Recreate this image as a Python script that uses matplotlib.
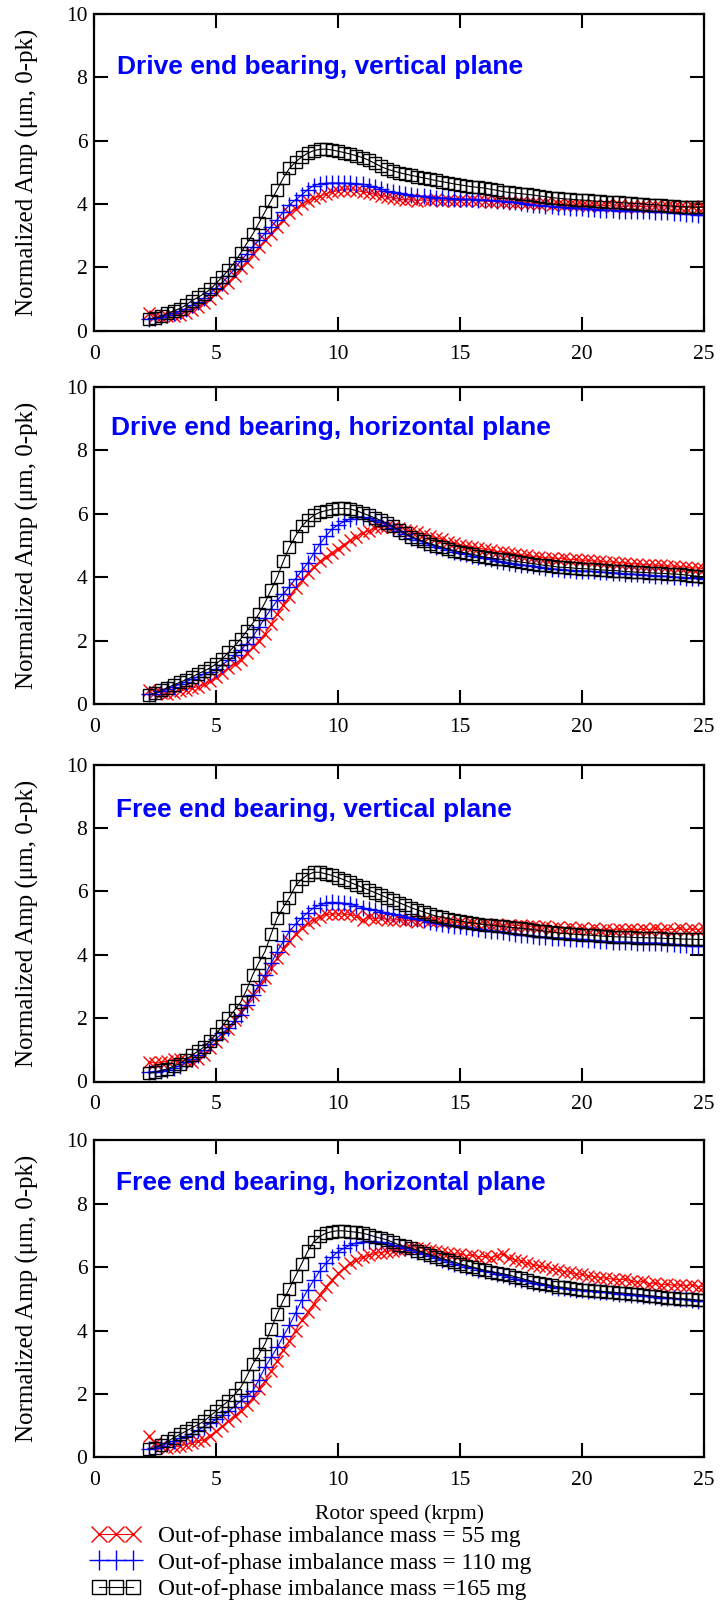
import numpy as np
import matplotlib
matplotlib.use("Agg")
import matplotlib.pyplot as plt

# ---------------- data ----------------
speed = np.arange(2.25, 25.001, 0.25)   # rotor speed grid (krpm), 92 points

titles = ["Drive end bearing, vertical plane",
          "Drive end bearing, horizontal plane",
          "Free end bearing, vertical plane",
          "Free end bearing, horizontal plane"]

labels = ["Out-of-phase imbalance mass = 55 mg",
          "Out-of-phase imbalance mass = 110 mg",
          "Out-of-phase imbalance mass =165 mg"]

xticks = [0, 5, 10, 15, 20, 25]
yticks = [0, 2, 4, 6, 8, 10]

# Drive end, vertical
dv_55 = [0.55, 0.47, 0.43, 0.45, 0.47, 0.51, 0.57, 0.65, 0.74, 0.86,
         1.01, 1.18, 1.34, 1.52, 1.74, 1.98, 2.18, 2.42, 2.63, 2.85,
         3.06, 3.28, 3.50, 3.70, 3.85, 3.99, 4.10, 4.18, 4.25, 4.32,
         4.38, 4.42, 4.44, 4.45, 4.42, 4.38, 4.35, 4.30, 4.26, 4.22,
         4.18, 4.15, 4.12, 4.14, 4.10, 4.13, 4.11, 4.14, 4.10, 4.12,
         4.09, 4.12, 4.10, 4.13, 4.09, 4.10, 4.07, 4.10, 4.05, 4.07,
         4.04, 4.06, 4.02, 4.03, 4.00, 4.02, 3.98, 4.00, 3.96, 3.99,
         3.95, 3.97, 3.94, 3.96, 3.93, 3.96, 3.92, 3.95, 3.91, 3.94,
         3.90, 3.93, 3.90, 3.92, 3.89, 3.92, 3.89, 3.91, 3.88, 3.92,
         3.88, 3.90]
dv_110 = [0.38, 0.39, 0.43, 0.50, 0.55, 0.62, 0.70, 0.80, 0.90, 1.03,
          1.18, 1.35, 1.52, 1.72, 1.95, 2.20, 2.42, 2.65, 2.86, 3.07,
          3.28, 3.50, 3.75, 3.97, 4.13, 4.28, 4.45, 4.58, 4.63, 4.65,
          4.66, 4.66, 4.65, 4.65, 4.64, 4.62, 4.58, 4.54, 4.47, 4.40,
          4.36, 4.33, 4.30, 4.28, 4.26, 4.24, 4.22, 4.20, 4.19, 4.18,
          4.17, 4.16, 4.15, 4.14, 4.13, 4.12, 4.11, 4.10, 4.08, 4.07,
          4.05, 4.03, 4.00, 3.97, 3.95, 3.93, 3.92, 3.90, 3.89, 3.88,
          3.87, 3.86, 3.85, 3.83, 3.82, 3.80, 3.80, 3.79, 3.79, 3.78,
          3.78, 3.77, 3.77, 3.76, 3.75, 3.73, 3.72, 3.70, 3.69, 3.68,
          3.66, 3.65]
dv_165 = [0.38, 0.40, 0.45, 0.55, 0.62, 0.70, 0.80, 0.95, 1.05, 1.17,
          1.30, 1.50, 1.70, 1.92, 2.15, 2.45, 2.75, 3.05, 3.40, 3.75,
          4.10, 4.45, 4.82, 5.12, 5.32, 5.48, 5.60, 5.68, 5.72, 5.73,
          5.70, 5.66, 5.62, 5.57, 5.52, 5.46, 5.38, 5.28, 5.18, 5.10,
          5.04, 4.99, 4.94, 4.90, 4.86, 4.82, 4.78, 4.74, 4.70, 4.67,
          4.63, 4.60, 4.57, 4.54, 4.52, 4.50, 4.46, 4.43, 4.39, 4.36,
          4.34, 4.32, 4.30, 4.28, 4.25, 4.23, 4.20, 4.18, 4.16, 4.15,
          4.13, 4.12, 4.11, 4.09, 4.08, 4.07, 4.06, 4.05, 4.03, 4.02,
          4.01, 4.00, 3.98, 3.97, 3.96, 3.94, 3.93, 3.91, 3.91, 3.90,
          3.90, 3.90]

# Drive end, horizontal
dh_55 = [0.45, 0.38, 0.35, 0.33, 0.36, 0.40, 0.45, 0.50, 0.55, 0.62,
         0.72, 0.85, 0.99, 1.13, 1.26, 1.40, 1.60, 1.80, 2.00, 2.22,
         2.52, 2.85, 3.12, 3.38, 3.65, 3.90, 4.12, 4.33, 4.50, 4.64,
         4.77, 4.90, 5.03, 5.17, 5.28, 5.38, 5.47, 5.54, 5.58, 5.60,
         5.59, 5.56, 5.50, 5.45, 5.42, 5.35, 5.31, 5.24, 5.20, 5.12,
         5.08, 5.02, 4.99, 4.94, 4.92, 4.88, 4.86, 4.81, 4.80, 4.76,
         4.74, 4.70, 4.69, 4.65, 4.64, 4.60, 4.62, 4.58, 4.59, 4.55,
         4.56, 4.53, 4.54, 4.50, 4.51, 4.47, 4.49, 4.44, 4.46, 4.41,
         4.43, 4.39, 4.40, 4.37, 4.38, 4.34, 4.36, 4.31, 4.33, 4.28,
         4.30, 4.26]
dh_110 = [0.30, 0.33, 0.40, 0.48, 0.55, 0.62, 0.70, 0.78, 0.86, 0.94,
          1.02, 1.10, 1.24, 1.38, 1.53, 1.70, 1.90, 2.12, 2.42, 2.72,
          3.00, 3.27, 3.48, 3.70, 3.95, 4.20, 4.45, 4.75, 5.05, 5.30,
          5.52, 5.65, 5.76, 5.84, 5.90, 5.90, 5.86, 5.80, 5.73, 5.65,
          5.55, 5.45, 5.35, 5.25, 5.17, 5.09, 5.02, 4.96, 4.91, 4.86,
          4.81, 4.76, 4.72, 4.68, 4.64, 4.60, 4.56, 4.52, 4.49, 4.45,
          4.42, 4.40, 4.37, 4.35, 4.32, 4.30, 4.27, 4.25, 4.24, 4.22,
          4.21, 4.20, 4.19, 4.18, 4.16, 4.15, 4.14, 4.13, 4.11, 4.10,
          4.09, 4.08, 4.06, 4.05, 4.04, 4.03, 4.01, 4.00, 3.99, 3.98,
          3.96, 3.95]
dh_165 = [0.28, 0.35, 0.43, 0.52, 0.60, 0.68, 0.76, 0.85, 0.95, 1.04,
          1.14, 1.27, 1.43, 1.63, 1.83, 2.05, 2.30, 2.55, 2.85, 3.20,
          3.60, 4.00, 4.50, 4.95, 5.30, 5.60, 5.80, 5.95, 6.05, 6.10,
          6.14, 6.17, 6.17, 6.15, 6.10, 6.02, 5.95, 5.87, 5.79, 5.70,
          5.60, 5.49, 5.38, 5.28, 5.20, 5.13, 5.06, 5.00, 4.95, 4.89,
          4.84, 4.80, 4.76, 4.72, 4.68, 4.64, 4.61, 4.58, 4.56, 4.53,
          4.50, 4.48, 4.45, 4.43, 4.40, 4.37, 4.35, 4.32, 4.31, 4.30,
          4.28, 4.27, 4.26, 4.25, 4.23, 4.22, 4.21, 4.20, 4.18, 4.17,
          4.16, 4.15, 4.14, 4.13, 4.12, 4.11, 4.10, 4.09, 4.07, 4.05,
          4.03, 4.00]

# Free end, vertical
fv_55 = [0.62, 0.58, 0.60, 0.65, 0.70, 0.70, 0.64, 0.62, 0.70, 0.85,
         1.05, 1.25, 1.45, 1.67, 1.93, 2.20, 2.46, 2.73, 3.00, 3.26,
         3.58, 3.90, 4.17, 4.42, 4.65, 4.85, 5.00, 5.11, 5.20, 5.27,
         5.28, 5.29, 5.28, 5.27, 5.22, 5.10, 5.18, 5.12, 5.16, 5.11,
         5.08, 5.12, 5.06, 5.10, 5.04, 5.08, 5.05, 5.06, 5.02, 5.05,
         5.00, 5.02, 4.97, 5.00, 4.95, 4.97, 4.93, 4.96, 4.92, 4.95,
         4.91, 4.93, 4.89, 4.90, 4.86, 4.89, 4.84, 4.87, 4.82, 4.86,
         4.80, 4.84, 4.79, 4.83, 4.78, 4.82, 4.77, 4.82, 4.78, 4.81,
         4.77, 4.82, 4.78, 4.83, 4.77, 4.81, 4.79, 4.84, 4.78, 4.82,
         4.79, 4.83]
fv_110 = [0.30, 0.31, 0.33, 0.36, 0.42, 0.50, 0.60, 0.70, 0.85, 1.00,
          1.17, 1.35, 1.52, 1.70, 1.90, 2.10, 2.40, 2.73, 3.05, 3.37,
          3.73, 4.10, 4.42, 4.74, 4.96, 5.16, 5.33, 5.48, 5.57, 5.63,
          5.65, 5.64, 5.62, 5.59, 5.54, 5.48, 5.44, 5.40, 5.36, 5.32,
          5.28, 5.24, 5.20, 5.16, 5.12, 5.08, 5.04, 5.00, 4.97, 4.95,
          4.92, 4.90, 4.87, 4.84, 4.82, 4.79, 4.76, 4.74, 4.71, 4.69,
          4.66, 4.63, 4.61, 4.58, 4.57, 4.56, 4.54, 4.53, 4.52, 4.51,
          4.49, 4.48, 4.46, 4.45, 4.43, 4.42, 4.41, 4.40, 4.40, 4.39,
          4.38, 4.38, 4.37, 4.37, 4.36, 4.35, 4.33, 4.32, 4.30, 4.29,
          4.27, 4.26]
fv_165 = [0.26, 0.30, 0.35, 0.40, 0.48, 0.56, 0.69, 0.83, 0.95, 1.09,
          1.28, 1.50, 1.75, 2.00, 2.25, 2.50, 2.90, 3.37, 3.75, 4.10,
          4.65, 5.16, 5.50, 5.80, 6.17, 6.38, 6.52, 6.60, 6.60, 6.55,
          6.50, 6.43, 6.36, 6.28, 6.20, 6.12, 6.04, 5.96, 5.88, 5.80,
          5.72, 5.64, 5.56, 5.48, 5.41, 5.35, 5.28, 5.22, 5.18, 5.14,
          5.10, 5.06, 5.03, 5.00, 4.98, 4.95, 4.93, 4.91, 4.89, 4.87,
          4.85, 4.83, 4.81, 4.79, 4.76, 4.74, 4.71, 4.69, 4.67, 4.66,
          4.64, 4.63, 4.62, 4.61, 4.59, 4.58, 4.57, 4.56, 4.56, 4.55,
          4.54, 4.54, 4.53, 4.53, 4.52, 4.51, 4.51, 4.50, 4.49, 4.49,
          4.48, 4.48]

# Free end, horizontal
fh_55 = [0.67, 0.45, 0.35, 0.30, 0.32, 0.35, 0.40, 0.45, 0.50, 0.56,
         0.68, 0.83, 0.98, 1.14, 1.30, 1.46, 1.66, 1.88, 2.14, 2.41,
         2.72, 3.05, 3.37, 3.68, 4.00, 4.32, 4.58, 4.85, 5.12, 5.38,
         5.60, 5.80, 5.97, 6.12, 6.22, 6.31, 6.37, 6.43, 6.46, 6.49,
         6.52, 6.54, 6.57, 6.59, 6.61, 6.59, 6.55, 6.52, 6.47, 6.45,
         6.40, 6.42, 6.36, 6.38, 6.32, 6.34, 6.30, 6.36, 6.42, 6.30,
         6.22, 6.18, 6.12, 6.08, 6.03, 6.00, 5.95, 5.92, 5.86, 5.84,
         5.78, 5.77, 5.72, 5.70, 5.66, 5.65, 5.62, 5.60, 5.62, 5.57,
         5.52, 5.55, 5.48, 5.50, 5.44, 5.47, 5.42, 5.44, 5.40, 5.45,
         5.37, 5.40]
fh_110 = [0.26, 0.30, 0.35, 0.45, 0.52, 0.60, 0.67, 0.75, 0.85, 0.97,
          1.08, 1.20, 1.32, 1.45, 1.60, 1.78, 1.92, 2.10, 2.45, 2.84,
          3.15, 3.47, 3.82, 4.16, 4.55, 4.95, 5.28, 5.59, 5.88, 6.12,
          6.32, 6.49, 6.60, 6.70, 6.76, 6.80, 6.81, 6.80, 6.78, 6.75,
          6.70, 6.65, 6.60, 6.54, 6.48, 6.41, 6.35, 6.28, 6.22, 6.17,
          6.11, 6.06, 6.01, 5.97, 5.92, 5.88, 5.83, 5.78, 5.74, 5.69,
          5.64, 5.60, 5.55, 5.50, 5.46, 5.42, 5.38, 5.35, 5.33, 5.31,
          5.29, 5.27, 5.25, 5.24, 5.22, 5.20, 5.18, 5.16, 5.15, 5.13,
          5.11, 5.09, 5.08, 5.06, 5.04, 5.03, 5.01, 5.00, 4.98, 4.96,
          4.94, 4.92]
fh_165 = [0.26, 0.30, 0.40, 0.50, 0.61, 0.72, 0.82, 0.93, 1.03, 1.14,
          1.30, 1.46, 1.62, 1.78, 1.98, 2.20, 2.55, 2.94, 3.25, 3.58,
          4.05, 4.53, 4.95, 5.32, 5.72, 6.10, 6.50, 6.80, 6.97, 7.07,
          7.12, 7.15, 7.14, 7.12, 7.10, 7.07, 7.02, 6.96, 6.91, 6.86,
          6.78, 6.70, 6.65, 6.59, 6.52, 6.46, 6.39, 6.33, 6.27, 6.22,
          6.16, 6.10, 6.05, 6.00, 5.95, 5.90, 5.86, 5.82, 5.79, 5.75,
          5.70, 5.65, 5.59, 5.54, 5.50, 5.46, 5.42, 5.38, 5.36, 5.33,
          5.31, 5.29, 5.27, 5.26, 5.24, 5.22, 5.21, 5.19, 5.18, 5.16,
          5.14, 5.12, 5.10, 5.08, 5.06, 5.04, 5.02, 5.00, 4.99, 4.98,
          4.96, 4.95]

panels = [(dv_55, dv_110, dv_165),
          (dh_55, dh_110, dh_165),
          (fv_55, fv_110, fv_165),
          (fh_55, fh_110, fh_165)]

# ---------------- styling ----------------
serif = "Liberation Serif"
sans = "Liberation Sans"
W, H = 722, 1600
fig = plt.figure(figsize=(W / 100, H / 100), dpi=100)

left_px, right_px = 94.3, 704.0
ax_h_px = 317.0
bottoms_px = [330.7, 704.0, 1081.5, 1457.3]
title_pos = [(0.0377, 0.810), (0.027, 0.849), (0.035, 0.835), (0.035, 0.843)]

styles = [dict(color="red", marker="x", ms=9, mew=1.0),
          dict(color=(0, 0, 1), marker="+", ms=11, mew=1.0),
          dict(color="black", marker="s", ms=8.2, mew=1.0, mfc="none")]

handles = None
axes = []
for i, (series, title) in enumerate(zip(panels, titles)):
    ax = fig.add_axes([left_px / W, 1 - bottoms_px[i] / H,
                       (right_px - left_px) / W, ax_h_px / H])
    hs = []
    for vals, st, lab in zip(series, styles, labels):
        h, = ax.plot(speed, vals, lw=0.8, label=lab, **st)
        hs.append(h)
    handles = hs
    ax.set_xlim(0, 25)
    ax.set_ylim(0, 10)
    ax.set_xticks(xticks)
    ax.set_yticks(yticks)
    ax.tick_params(direction="in", length=10, width=1.5, top=True, right=True,
                   labelsize=15.5)
    ax.tick_params(axis="x", pad=10)
    ax.tick_params(axis="y", pad=5)
    for lab in ax.get_xticklabels() + ax.get_yticklabels():
        lab.set_fontfamily(serif)
    for sp in ax.spines.values():
        sp.set_linewidth(1.6)
    ax.set_ylabel("Normalized Amp (\u03bcm, 0-pk)", fontsize=18, family=serif,
                  labelpad=19)
    tx, ty = title_pos[i]
    ax.text(tx, ty, title, transform=ax.transAxes,
            fontsize=19, fontweight="bold", family=sans, color=(0, 0, 1),
            va="baseline", ha="left")
    axes.append(ax)

axes[-1].set_xlabel("Rotor speed (krpm)", fontsize=15.5, family=serif,
                    labelpad=10)

fig.legend(handles, labels, loc="upper left",
           bbox_to_anchor=(92 / W, 1 - 1526 / H),
           frameon=False, numpoints=3, handlelength=2.05, handletextpad=0.76,
           labelspacing=0.21, borderpad=0, borderaxespad=0, markerscale=1.25,
           prop=dict(family=serif, size=16.8))

fig.savefig("out.png", dpi=100)
